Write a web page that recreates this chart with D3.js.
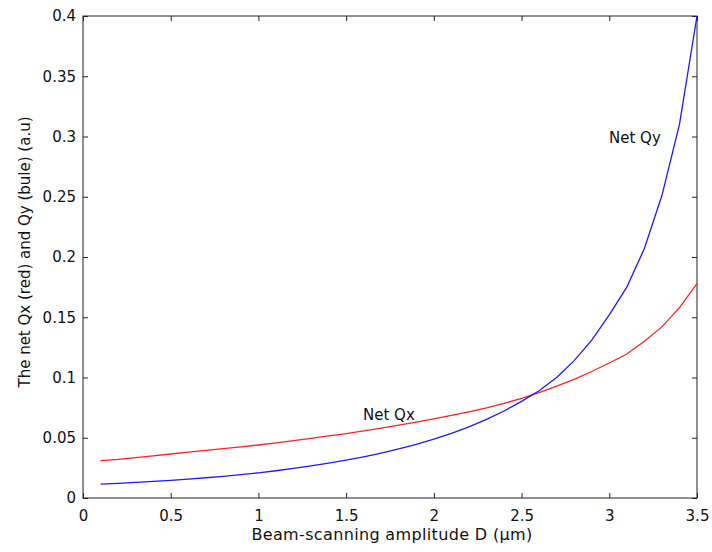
<!DOCTYPE html>
<html>
<head>
<meta charset="utf-8">
<script src="https://cdn.jsdelivr.net/npm/d3@7"></script>
<style>
  body { margin: 0; background: #fff; }
  text { font-family: "DejaVu Sans", sans-serif; fill: #111; }
</style>
</head>
<body>
<svg width="712" height="552"></svg>
<script>
// beam-scanning amplitude D (um)
var amplitude = [0.1, 0.2, 0.3, 0.4, 0.5, 0.6, 0.7, 0.8, 0.9, 1.0,
                 1.1, 1.2, 1.3, 1.4, 1.5, 1.6, 1.7, 1.8, 1.9, 2.0,
                 2.1, 2.2, 2.3, 2.4, 2.5, 2.6, 2.7, 2.8, 2.9, 3.0,
                 3.1, 3.2, 3.3, 3.4, 3.5];

// net Qx (red)
var netQx = [0.031, 0.032, 0.0335, 0.035, 0.0365, 0.038, 0.0395, 0.041, 0.0425, 0.044,
             0.0458, 0.0476, 0.0495, 0.0515, 0.0535, 0.0557, 0.058, 0.0604, 0.063, 0.0657,
             0.0685, 0.0715, 0.0748, 0.0785, 0.0826, 0.0875, 0.0928, 0.0985, 0.105, 0.112,
             0.1195, 0.13, 0.142, 0.158, 0.178];

// net Qy (blue)
var netQy = [0.0115, 0.0122, 0.013, 0.0138, 0.0147, 0.0157, 0.0168, 0.018, 0.0194, 0.0209,
             0.0226, 0.0245, 0.0266, 0.0289, 0.0314, 0.0342, 0.0373, 0.0407, 0.0445, 0.0488,
             0.0536, 0.059, 0.0652, 0.0722, 0.0802, 0.089, 0.1, 0.114, 0.131, 0.152,
             0.175, 0.207, 0.251, 0.31, 0.4];

var xTicks = [0, 0.5, 1, 1.5, 2, 2.5, 3, 3.5];
var yTicks = [0, 0.05, 0.1, 0.15, 0.2, 0.25, 0.3, 0.35, 0.4];

var svg = d3.select("svg");
var plotL = 83, plotR = 697, plotT = 16, plotB = 498;
var fontSize = 15;

var x = d3.scaleLinear().domain([0, 3.5]).range([plotL, plotR]);
var y = d3.scaleLinear().domain([0, 0.4]).range([plotB, plotT]);

var axisColor = "#222";
var tickLen = 5;

function fmt(v) { return String(+v.toFixed(2)); }

// box
svg.append("rect")
    .attr("x", plotL).attr("y", plotT)
    .attr("width", plotR - plotL).attr("height", plotB - plotT)
    .attr("fill", "none").attr("stroke", axisColor).attr("stroke-width", 1);

// axes with inside ticks
var gx = svg.append("g").attr("transform", "translate(0," + plotB + ")")
    .call(d3.axisBottom(x).tickValues(xTicks).tickSizeInner(-tickLen).tickSizeOuter(0).tickPadding(12).tickFormat(fmt));
var gxTop = svg.append("g").attr("transform", "translate(0," + plotT + ")")
    .call(d3.axisTop(x).tickValues(xTicks).tickSizeInner(-tickLen).tickSizeOuter(0).tickFormat(""));
var gy = svg.append("g").attr("transform", "translate(" + plotL + ",0)")
    .call(d3.axisLeft(y).tickValues(yTicks).tickSizeInner(-tickLen).tickSizeOuter(0).tickPadding(7).tickFormat(fmt));
var gyRight = svg.append("g").attr("transform", "translate(" + plotR + ",0)")
    .call(d3.axisRight(y).tickValues(yTicks).tickSizeInner(-tickLen).tickSizeOuter(0).tickFormat(""));

[gx, gxTop, gy, gyRight].forEach(function(g) {
    g.select(".domain").remove();
    g.selectAll("line").attr("stroke", axisColor);
    g.selectAll("text").attr("font-size", fontSize).attr("fill", "#111")
        .style("font-family", "'DejaVu Sans', sans-serif");
});

// curves
var line = d3.line()
    .x(function(d) { return x(d[0]); })
    .y(function(d) { return y(d[1]); });

svg.append("path")
    .datum(d3.zip(amplitude, netQx))
    .attr("d", line)
    .attr("fill", "none").attr("stroke", "#ff2020").attr("stroke-width", 1.3);

svg.append("path")
    .datum(d3.zip(amplitude, netQy))
    .attr("d", line)
    .attr("fill", "none").attr("stroke", "#1a1aff").attr("stroke-width", 1.3);

// annotations
svg.append("text").attr("x", 609).attr("y", 143).attr("font-size", fontSize).text("Net Qy");
svg.append("text").attr("x", 363).attr("y", 420).attr("font-size", fontSize).text("Net Qx");

// axis labels
svg.append("text")
    .attr("x", 392).attr("y", 540)
    .attr("text-anchor", "middle").attr("font-size", 16)
    .attr("letter-spacing", 0.35)
    .text("Beam-scanning amplitude D (\u03bcm)");

svg.append("text")
    .attr("transform", "translate(30,252) rotate(-90)")
    .attr("text-anchor", "middle").attr("font-size", fontSize)
    .text("The net Qx (red) and Qy (bule) (a.u)");
</script>
</body>
</html>
